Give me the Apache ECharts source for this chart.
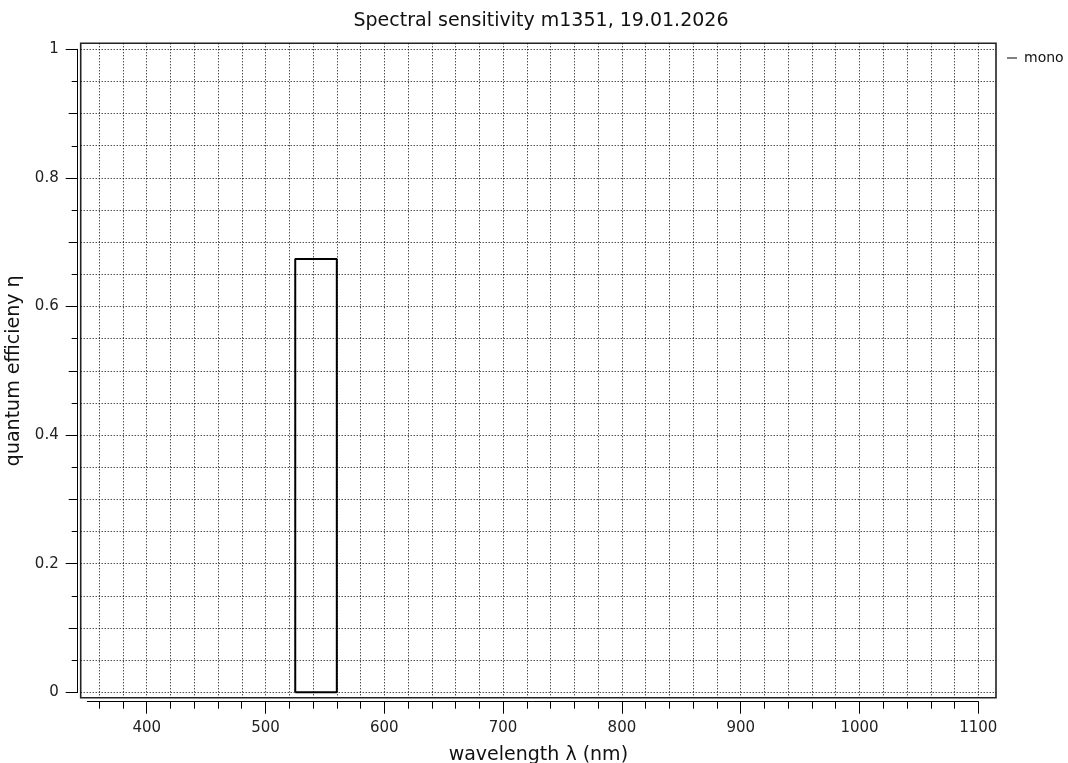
<!DOCTYPE html>
<html>
<head>
<meta charset="utf-8">
<script src="https://cdn.jsdelivr.net/npm/echarts@6/dist/echarts.min.js"></script>
<style>html,body{margin:0;padding:0;background:#fff;}#c{width:1068px;height:763px;}</style>
</head>
<body>
<div id="c"></div>
<script>
// ---- data ----
const titleText = 'Spectral sensitivity m1351, 19.01.2026';
const seriesName = 'mono';
const wavelengths = [525, 525, 560, 560, 525];
const efficiency = [0, 0.674, 0.674, 0, 0];
const xMinorTicks = [360, 380, 400, 420, 440, 460, 480, 500, 520, 540, 560, 580, 600, 620, 640, 660, 680, 700, 720, 740, 760, 780, 800, 820, 840, 860, 880, 900, 920, 940, 960, 980, 1000, 1020, 1040, 1060, 1080, 1100];
const xMajorTicks = [400, 500, 600, 700, 800, 900, 1000, 1100];
const yMinorTicks = [0, 0.05, 0.1, 0.15, 0.2, 0.25, 0.3, 0.35, 0.4, 0.45, 0.5, 0.55, 0.6, 0.65, 0.7, 0.75, 0.8, 0.85, 0.9, 0.95, 1];
const yMidTicks = [0, 0.1, 0.2, 0.3, 0.4, 0.5, 0.6, 0.7, 0.8, 0.9, 1];
const yMajorTicks = [0, 0.2, 0.4, 0.6, 0.8, 1];
const xAxisRange = [350, 1100];
const yAxisRange = [0, 1];
const xFrameRange = [344.4, 1114.9];
const yFrameRange = [-0.0084, 1.0093];
const xName = 'wavelength λ (nm)';
const yName = 'quantum efficieny η';

// ---- chart ----
const FONT = 'DejaVu Sans';
const chart = echarts.init(document.getElementById('c'), null, {renderer: 'canvas'});
const points = wavelengths.map((w, i) => [w, efficiency[i]]);
const hiddenX = (g) => ({gridIndex: g, type: 'value', show: false, min: 0, max: 1});
const hiddenY = (g) => ({gridIndex: g, type: 'value', show: false, min: 0, max: 1});
const plain = (v) => String(v);
const G = {outerBoundsMode: 'none', containLabel: false};

const option = {
  animation: false,
  backgroundColor: '#fff',
  textStyle: {fontFamily: FONT},
  title: {
    text: titleText, left: 536, top: 7, textAlign: 'center',
    textStyle: {fontFamily: FONT, fontSize: 19, fontWeight: 'normal', color: '#111'}
  },
  legend: {
    left: 1002, top: 46, icon: 'rect', itemWidth: 10, itemHeight: 1, itemGap: 4,
    data: [seriesName],
    itemStyle: {color: '#000'},
    textStyle: {fontFamily: FONT, fontSize: 14, color: '#111', padding: [0, 0, 0, 2]}
  },
  grid: [
    Object.assign({left: 80.7, top: 43.3, width: 915.3, height: 654.4, show: true, borderColor: '#222', borderWidth: 1.6, backgroundColor: '#fff'}, G),
    Object.assign({left: 87.3, width: 891, top: 43.3, height: 658.4}, G),
    Object.assign({left: 87.3, width: 891, top: 43.3, height: 658.4}, G),
    Object.assign({left: 77.7, top: 49.3, height: 643, width: 900}, G),
    Object.assign({left: 77.7, top: 49.3, height: 643, width: 900}, G),
    Object.assign({left: 77.7, top: 49.3, height: 643, width: 900}, G)
  ],
  xAxis: [
    {
      gridIndex: 0, type: 'value', min: xFrameRange[0], max: xFrameRange[1],
      axisLine: {show: false}, axisLabel: {show: false},
      axisTick: {show: false, customValues: xMinorTicks},
      splitLine: {show: true, lineStyle: {color: '#000', type: [1, 2], width: 1}},
      name: xName, nameLocation: 'middle', nameGap: 48,
      nameTextStyle: {fontFamily: FONT, fontSize: 19, color: '#111'}
    },
    {
      gridIndex: 1, type: 'value', position: 'bottom', min: xAxisRange[0], max: xAxisRange[1],
      axisLine: {show: true, lineStyle: {color: '#000', width: 1}},
      axisTick: {show: true, length: 7, customValues: xMinorTicks, lineStyle: {color: '#000'}},
      axisLabel: {show: false},
      splitLine: {show: false}
    },
    {
      gridIndex: 2, type: 'value', position: 'bottom', min: xAxisRange[0], max: xAxisRange[1],
      axisLine: {show: false},
      axisTick: {show: true, length: 12, customValues: xMajorTicks, lineStyle: {color: '#000'}},
      axisLabel: {show: true, customValues: xMajorTicks, formatter: plain, margin: 19, fontFamily: FONT, fontSize: 15, color: '#222'},
      splitLine: {show: false}
    },
    hiddenX(3), hiddenX(4), hiddenX(5)
  ],
  yAxis: [
    {
      gridIndex: 0, type: 'value', min: yFrameRange[0], max: yFrameRange[1],
      axisLine: {show: false}, axisLabel: {show: false},
      axisTick: {show: false, customValues: yMinorTicks},
      splitLine: {show: true, lineStyle: {color: '#000', type: [1, 2], width: 1}}
    },
    hiddenY(1), hiddenY(2),
    {
      gridIndex: 3, type: 'value', position: 'left', min: yAxisRange[0], max: yAxisRange[1],
      axisLine: {show: true, lineStyle: {color: '#000', width: 1}},
      axisTick: {show: true, length: 6, customValues: yMinorTicks, lineStyle: {color: '#000'}},
      axisLabel: {show: false}, splitLine: {show: false}
    },
    {
      gridIndex: 4, type: 'value', position: 'left', min: yAxisRange[0], max: yAxisRange[1],
      axisLine: {show: false},
      axisTick: {show: true, length: 9, customValues: yMidTicks, lineStyle: {color: '#000'}},
      axisLabel: {show: false}, splitLine: {show: false}
    },
    {
      gridIndex: 5, type: 'value', position: 'left', min: yAxisRange[0], max: yAxisRange[1],
      axisLine: {show: false},
      axisTick: {show: true, length: 12, customValues: yMajorTicks, lineStyle: {color: '#000'}},
      axisLabel: {show: true, customValues: yMajorTicks, formatter: plain, margin: 19, fontFamily: FONT, fontSize: 15, color: '#222'},
      splitLine: {show: false},
      name: yName, nameLocation: 'middle', nameGap: 44.5,
      nameTextStyle: {fontFamily: FONT, fontSize: 19, color: '#111'}
    }
  ],
  series: [{
    name: seriesName, type: 'line', xAxisIndex: 0, yAxisIndex: 0,
    data: points, showSymbol: false, symbol: 'none', clip: false,
    lineStyle: {color: '#000', width: 2}, itemStyle: {color: '#000'}
  }]
};
chart.setOption(option);
</script>
</body>
</html>
